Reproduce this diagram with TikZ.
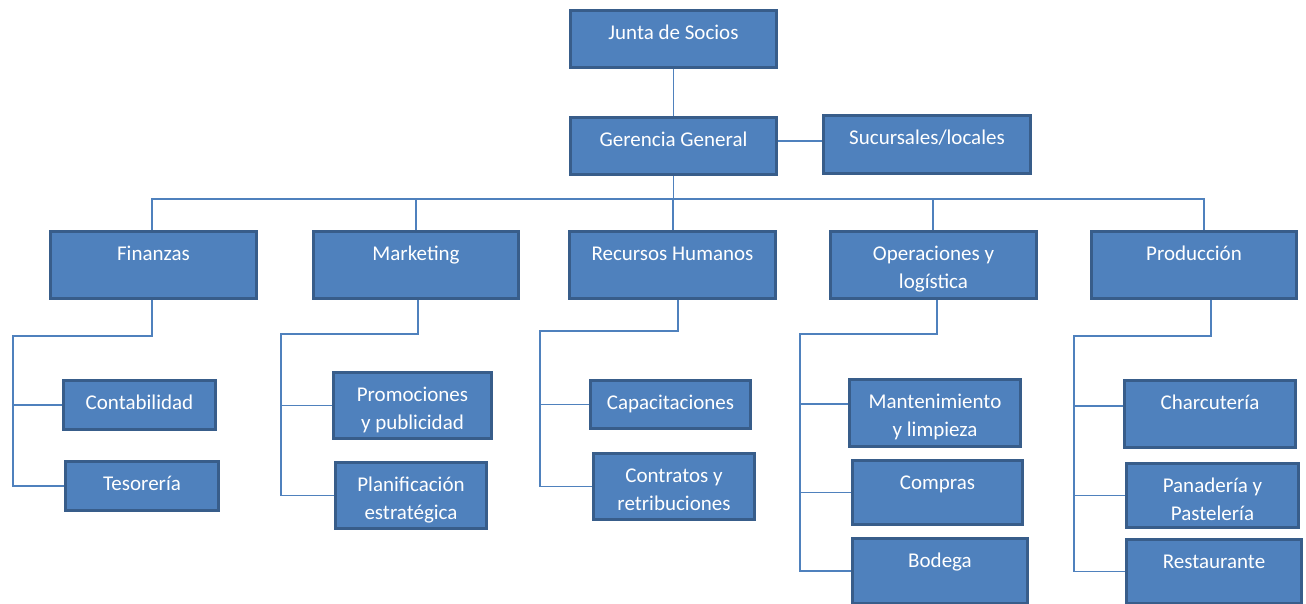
\documentclass[tikz,border=0pt]{standalone}
\usepackage{fontspec}
\setmainfont{Carlito}
\definecolor{boxblue}{HTML}{4F81BD}
\definecolor{edgeblue}{HTML}{385D8A}
\newcommand{\twolines}[1]{\begin{tabular}[t]{@{}c@{}}#1\end{tabular}}

\begin{document}
\begin{tikzpicture}[x=1pt,y=-1pt]
	\tikzset{unit/.style 2 args = {shape=rectangle, draw=edgeblue, fill=boxblue, line width=3pt, text=white,
			font=\fontsize{21}{28}\selectfont, inner sep=0pt, minimum width={#1pt-3pt}, minimum height={#2pt-3pt},
			text height=28.5pt, text depth={#2pt-31.5pt}},
		link/.style = {draw=boxblue, line width=1.6pt}}
	\clip (0,0) rectangle (1306,603);
	\fill[white] (0,0) rectangle (1306,603);
	
	\node[unit={209}{60}] (junta) at (673.5,39) {Junta de Socios};
	\node[unit={209}{60}] (gerencia) at (673.5,146) {Gerencia General};
	\node[unit={210}{61}] (sucursales) at (927,144.5) {Sucursales/locales};
	
	\node[unit={209}{70}] (finanzas) at (153.5,265) {Finanzas};
	\node[unit={208}{70}] (marketing) at (416,265) {Marketing};
	\node[unit={209}{70}] (rrhh) at (672.5,265) {Recursos Humanos};
	\node[unit={209}{70}] (operaciones) at (933.5,265) {\twolines{Operaciones y\\logística}};
	\node[unit={208}{70}] (produccion) at (1194,265) {Producción};
	
	\node[unit={155}{52}] (contabilidad) at (139.5,405) {Contabilidad};
	\node[unit={156}{52}] (tesoreria) at (142,486) {Tesorería};
	\node[unit={161}{69}] (promociones) at (412.5,405.5) {\twolines{Promociones\\y publicidad}};
	\node[unit={154}{69}] (planificacion) at (411,495.5) {\twolines{Planificación\\estratégica}};
	\node[unit={163}{51}] (capacitaciones) at (670.5,404.5) {Capacitaciones};
	\node[unit={164}{69}] (contratos) at (674,486.5) {\twolines{Contratos y\\retribuciones}};
	\node[unit={174}{70}] (mantenimiento) at (935,413) {\twolines{Mantenimiento\\y limpieza}};
	\node[unit={173}{67}] (compras) at (937.5,492.5) {Compras};
	\node[unit={178}{68}] (bodega) at (940,571) {Bodega};
	\node[unit={174}{70}] (charcuteria) at (1210,414) {Charcutería};
	\node[unit={175}{67}] (panaderia) at (1212.5,495.5) {\twolines{Panadería y\\Pastelería}};
	\node[unit={178}{67}] (restaurante) at (1214,571.5) {Restaurante};
	
	\draw[link] (junta) -- (gerencia);
	\draw[link] ([yshift=5pt]gerencia.east) -- ([yshift=5pt]gerencia.east -| sucursales.west);
	
	\coordinate (bus) at (673,199);
	\foreach \n/\dx in {finanzas/-1.5, marketing/0, rrhh/0.5, operaciones/-0.5, produccion/10}
		\draw[link] (gerencia.south) |- ([xshift=\dx pt]\n.north |- bus) -- ([xshift=\dx pt]\n.north);
	
	\coordinate (finrail) at (13,336);
	\coordinate (mkrail) at (281,334);
	\coordinate (rhrail) at (540,331);
	\coordinate (oprail) at (800,334);
	\coordinate (prrail) at (1074,336);
	\foreach \p/\dx/\r/\last in {finanzas/-1.5/finrail/tesoreria, marketing/2/mkrail/planificacion,
			rrhh/5.5/rhrail/contratos, operaciones/3.5/oprail/bodega, produccion/17/prrail/restaurante}
		\draw[link] ([xshift=\dx pt]\p.south) |- (\r) |- (\last.west);
	\foreach \r/\c/\dy in {finrail/contabilidad/0, mkrail/promociones/0, rhrail/capacitaciones/0,
			oprail/mantenimiento/9, oprail/compras/0, prrail/charcuteria/8, prrail/panaderia/0}
		\draw[link] ([yshift=\dy pt]\r |- \c.west) -- ([yshift=\dy pt]\c.west);
\end{tikzpicture}
\end{document}
